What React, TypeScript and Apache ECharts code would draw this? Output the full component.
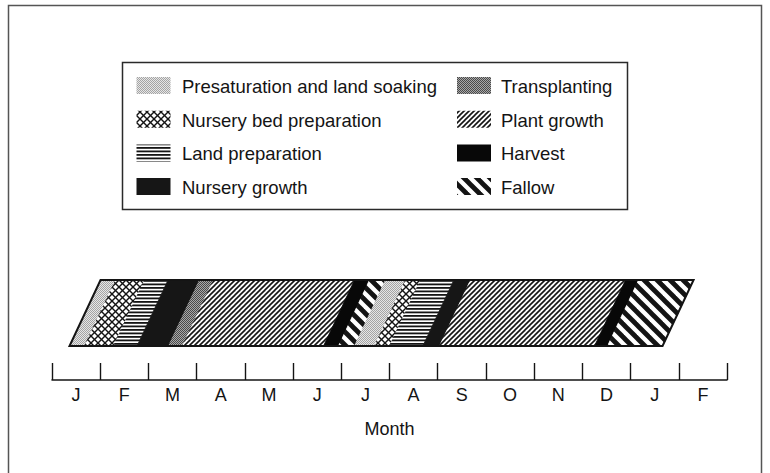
import React, { useEffect, useRef } from 'react';
import * as echarts from 'echarts';

const activities = [
  'Presaturation and land soaking',
  'Nursery bed preparation',
  'Land preparation',
  'Nursery growth',
  'Transplanting',
  'Plant growth',
  'Harvest',
  'Fallow',
];
const monthLabels = ['J', 'F', 'M', 'A', 'M', 'J', 'J', 'A', 'S', 'O', 'N', 'D', 'J', 'F'];
const axisName = 'Month';

// segment boundaries in months (measured at mid-height of the band)
const segmentStart = [0.685, 0.996, 1.597, 2.085, 2.738, 3.028, 5.953, 6.264, 6.596, 7.011, 7.322, 8.013, 8.359, 11.574, 11.844];
const segmentEnd = [0.996, 1.597, 2.085, 2.738, 3.028, 5.953, 6.264, 6.596, 7.011, 7.322, 8.013, 8.359, 11.574, 11.844, 12.985];
const segmentActivity = [0, 1, 2, 3, 4, 5, 6, 7, 0, 1, 2, 3, 5, 6, 7];

const FONT = 'Liberation Sans, Arial, Helvetica, sans-serif';
const INK = '#141414';

function tile(w: number, h: number, draw: (g: CanvasRenderingContext2D) => void) {
  const c = document.createElement('canvas');
  c.width = w;
  c.height = h;
  const g = c.getContext('2d') as CanvasRenderingContext2D;
  draw(g);
  return { image: c, repeat: 'repeat', imageWidth: w, imageHeight: h };
}

// diagonal lines at 45deg with horizontal period w, drawn long so the tile wraps cleanly
function diag(g: CanvasRenderingContext2D, w: number, lw: number, dir: number) {
  g.strokeStyle = INK;
  g.lineWidth = lw;
  g.lineCap = 'butt';
  for (let k = -3; k <= 3; k++) {
    const a = k * w;
    g.beginPath();
    if (dir > 0) {
      // "/" : y = -(x - a) + w
      g.moveTo(a - 2 * w, 3 * w);
      g.lineTo(a + 3 * w, -2 * w);
    } else {
      // "\" : y = x - a
      g.moveTo(a - 2 * w, -2 * w);
      g.lineTo(a + 3 * w, 3 * w);
    }
    g.stroke();
  }
}

function makePatterns(): any[] {
  return [
    tile(2, 2, (g) => {
      g.fillStyle = '#e6e6e6';
      g.fillRect(0, 0, 2, 2);
      g.fillStyle = '#a4a4a4';
      g.fillRect(0, 0, 1, 1);
      g.fillRect(1, 1, 1, 1);
    }),
    tile(7, 7, (g) => {
      g.fillStyle = '#ffffff';
      g.fillRect(0, 0, 7, 7);
      diag(g, 7, 1.4, 1);
      diag(g, 7, 1.4, -1);
    }),
    tile(4, 7, (g) => {
      g.fillStyle = '#ffffff';
      g.fillRect(0, 0, 4, 7);
      g.fillStyle = INK;
      g.fillRect(0, 0, 4, 1.8);
      g.fillRect(0, 3.5, 4, 1.8);
    }),
    '#161616',
    tile(2, 2, (g) => {
      g.fillStyle = '#a8a8a8';
      g.fillRect(0, 0, 2, 2);
      g.fillStyle = '#4a4a4a';
      g.fillRect(0, 0, 1, 1);
      g.fillRect(1, 1, 1, 1);
    }),
    tile(5, 5, (g) => {
      g.fillStyle = '#ffffff';
      g.fillRect(0, 0, 5, 5);
      diag(g, 5, 1.6, 1);
    }),
    '#080808',
    tile(13, 13, (g) => {
      g.fillStyle = '#ffffff';
      g.fillRect(0, 0, 13, 13);
      diag(g, 13, 4.8, -1);
    }),
  ];
}

export default function App() {
  const ref = useRef<HTMLDivElement>(null);

  useEffect(() => {
    if (!ref.current) return;
    const chart = echarts.init(ref.current, null, { renderer: 'svg' });
    const patterns = makePatterns();
    const BAND_LOW = 0.34;
    const BAND_HIGH = 1.0;
    const SLANT = 15.5;

    const segments = segmentStart.map((s, i) => [s, segmentEnd[i], segmentActivity[i]]);

    const para = (api: any, s: number, e: number) => {
      const yb = api.coord([s, BAND_LOW])[1];
      const yt = api.coord([s, BAND_HIGH])[1];
      const x0 = api.coord([s, BAND_LOW])[0];
      const x1 = api.coord([e, BAND_LOW])[0];
      return [
        [x0 - SLANT, yb],
        [x1 - SLANT, yb],
        [x1 + SLANT, yt],
        [x0 + SLANT, yt],
      ];
    };

    // legend graphic
    const legendElems: any[] = [];
    legendElems.push({
      type: 'rect',
      shape: { x: 122.5, y: 62.5, width: 505, height: 147 },
      style: { fill: 'none', stroke: '#2a2a2a', lineWidth: 1.5 },
      silent: true,
    });
    activities.forEach((name, i) => {
      const col = Math.floor(i / 4);
      const row = i % 4;
      const cy = 85.5 + row * 33.7;
      const ix = col === 0 ? 136.5 : 457;
      const tx = col === 0 ? 182 : 501;
      legendElems.push({
        type: 'rect',
        shape: { x: ix, y: cy - 8.5, width: 34, height: 17 },
        style: { fill: patterns[i] },
        silent: true,
      });
      legendElems.push({
        type: 'text',
        x: tx,
        y: cy + 1,
        style: {
          text: name,
          fill: INK,
          font: `18.5px ${FONT}`,
          verticalAlign: 'middle',
          align: 'left',
        },
        silent: true,
      });
    });

    const option: any = {
      animation: false,
      backgroundColor: '#ffffff',
      grid: { left: 52, right: 43, top: 280, bottom: 93, outerBoundsMode: 'none' },
      xAxis: [
        { type: 'value', min: 0, max: 14, interval: 1, show: false },
        {
          type: 'category',
          data: monthLabels,
          position: 'bottom',
          boundaryGap: true,
          axisLine: { show: true, lineStyle: { color: INK, width: 1.5 } },
          axisTick: { show: true, inside: true, length: 17, interval: 0, lineStyle: { color: INK, width: 1.4 } },
          axisLabel: { interval: 0, margin: 6, fontSize: 18, color: INK, fontFamily: FONT },
          splitLine: { show: false },
          name: axisName,
          nameLocation: 'middle',
          nameGap: 40,
          nameTextStyle: { fontSize: 18, color: INK, fontFamily: FONT },
        },
      ],
      yAxis: { type: 'value', min: 0, max: 1, show: false },
      series: [
        {
          type: 'custom',
          xAxisIndex: 0,
          yAxisIndex: 0,
          clip: false,
          data: segments,
          renderItem: (params: any, api: any) => {
            const s = api.value(0);
            const e = api.value(1);
            const k = api.value(2);
            const fill = patterns[k];
            return {
              type: 'polygon',
              shape: { points: para(api, s, e) },
              style: { fill, stroke: fill, lineWidth: 0.8 },
            };
          },
        },
        {
          type: 'custom',
          xAxisIndex: 0,
          yAxisIndex: 0,
          clip: false,
          z: 5,
          data: [[segmentStart[0], segmentEnd[segmentEnd.length - 1]]],
          renderItem: (params: any, api: any) => ({
            type: 'polygon',
            shape: { points: para(api, api.value(0), api.value(1)) },
            style: { fill: 'none', stroke: INK, lineWidth: 2, lineJoin: 'miter' },
          }),
        },
      ],
      graphic: [
        {
          type: 'rect',
          shape: { x: 8.5, y: 5.5, width: 753, height: 490 },
          style: { fill: 'none', stroke: '#555', lineWidth: 1.5 },
          silent: true,
          z: -1,
        },
        ...legendElems,
      ],
    };
    chart.setOption(option);
    return () => chart.dispose();
  }, []);

  return (
    <div
      ref={ref}
      style={{ position: 'absolute', left: 0, top: 0, width: 770, height: 473 }}
    />
  );
}
